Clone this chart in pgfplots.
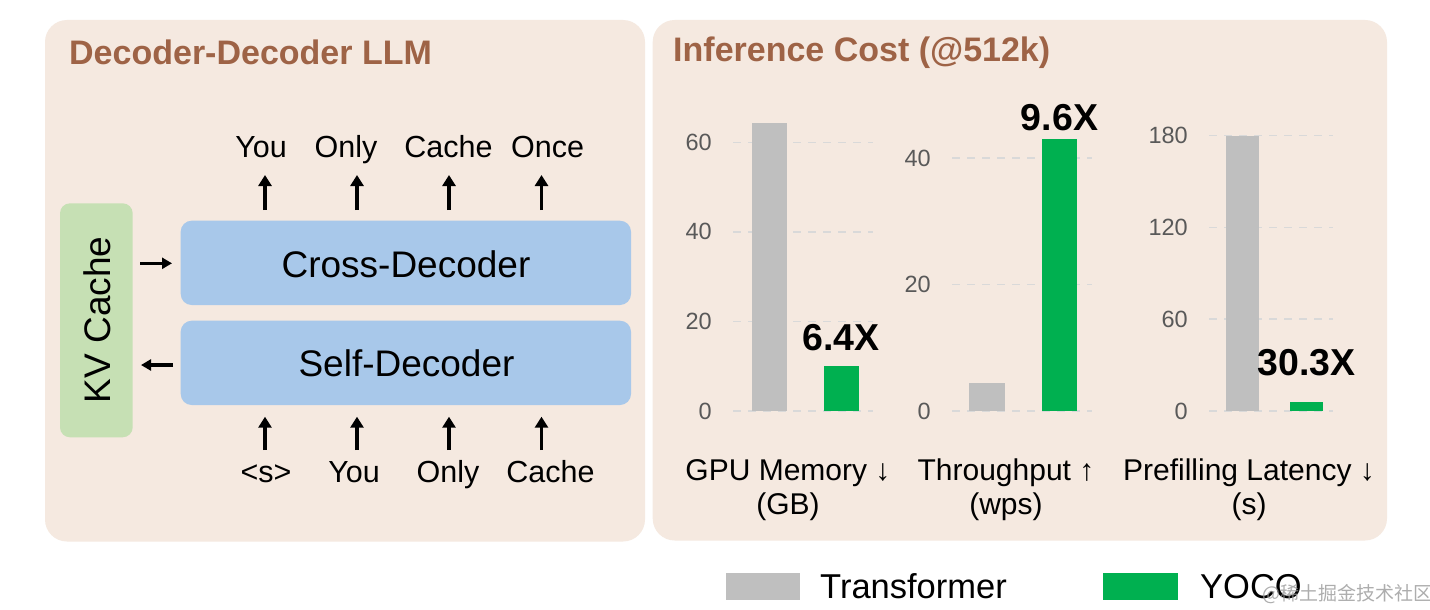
\documentclass[border=0pt]{standalone}
\usepackage{fontspec}
\setmainfont{Liberation Sans}
\newfontfamily\cjk{Noto Sans CJK SC}
\usepackage{pgfplots}
\pgfplotsset{compat=1.18}
\usetikzlibrary{arrows.meta}

\definecolor{panel}{RGB}{245,233,224}
\definecolor{titlec}{RGB}{158,99,70}
\definecolor{boxblue}{RGB}{168,200,234}
\definecolor{kvgreen}{RGB}{198,224,180}
\definecolor{trgray}{RGB}{191,191,191}
\definecolor{yocogreen}{RGB}{0,176,80}
\definecolor{gridc}{RGB}{217,217,217}
\definecolor{tickc}{RGB}{89,89,89}

\newcommand{\fs}[1]{\fontsize{#1}{#1}\selectfont}

\pgfplotsset{
  cost/.style={
    scale only axis,
    anchor=south west,
    ybar, bar shift=0pt,
    ymin=0, clip=false,
    axis line style={draw=none},
    xtick=\empty,
    tick style={draw=none},
    ymajorgrids,
    major grid style={gridc, line width=1.5pt, dash pattern=on 8pt off 7pt},
    yticklabel style={font=\fs{23.5}, text=tickc, anchor=east, inner sep=0pt, xshift=-21pt},
    /pgf/number format/assume math mode=true,
  },
  ratio/.style={nodes near coords, point meta=explicit symbolic,
    nodes near coords style={font=\bfseries\fs{37.5}, text=black, anchor=base, inner sep=0pt, yshift=#1}},
}

\begin{document}
\begin{tikzpicture}[x=1pt, y=1pt]
\useasboundingbox (0,0) rectangle (1430,-610);
\fill[white] (0,0) rectangle (1430,-610);

% panels
\fill[panel, rounded corners=22pt] (45,-20) rectangle (645,-541.5);
\fill[panel, rounded corners=22pt] (652.7,-20) rectangle (1387,-540.5);
\node[anchor=base west, inner sep=0, font=\bfseries\fs{34}, text=titlec] at (69,-65) {Decoder-Decoder LLM};
\node[anchor=base west, inner sep=0, font=\bfseries\fs{34}, text=titlec] at (673,-62) {Inference Cost (@512k)};

% decoder-decoder sketch
\fill[kvgreen, rounded corners=10pt] (60,-203.3) rectangle (132.7,-437.3);
\node[rotate=90, anchor=base, inner sep=0, font=\fs{37}] at (110.7,-320) {KV Cache};
\fill[boxblue, rounded corners=11pt] (180.7,-220.7) rectangle (631,-305);
\fill[boxblue, rounded corners=11pt] (180.7,-320.7) rectangle (631,-405);
\node[anchor=base, inner sep=0, font=\fs{37}] at (406,-277.3) {Cross-Decoder};
\node[anchor=base, inner sep=0, font=\fs{37}] at (406.5,-376.7) {Self-Decoder};
\foreach \x in {265,357,449,541.5} {
  \draw[line width=3.8pt, -{Triangle[length=11pt,width=13pt]}] (\x,-210) -- (\x,-175);
  \draw[line width=3.8pt, -{Triangle[length=11pt,width=13pt]}] (\x,-450) -- (\x,-416.7);
}
\draw[line width=3.3pt, -{Triangle[length=10pt,width=11pt]}] (140,-263.3) -- (172,-263.3);
\draw[line width=3.3pt, -{Triangle[length=10pt,width=11pt]}] (173,-365) -- (141,-365);
\foreach \x/\w in {261/You, 346/Only, 448.5/Cache, 547.6/Once}
  \node[anchor=base, inner sep=0, font=\fs{30.5}] at (\x,-157.7) {\w};
\foreach \x/\w in {266/<s>, 354/You, 448/Only, 550.5/Cache}
  \node[anchor=base, inner sep=0, font=\fs{30.5}] at (\x,-482) {\w};

% GPU memory
\begin{axis}[cost, at={(733pt,-411pt)}, width=140pt, height=291.1pt,
  bar width=35pt, xmin=-0.5105, xmax=1.4476, ymax=65, ytick={0,20,40,60}]
\addplot[fill=trgray, draw=none, bar shift=0pt] coordinates {(0,64.4)};
\addplot[fill=yocogreen, draw=none, bar shift=0pt, ratio=15.3pt] coordinates {(1,10.05) [6.4X]};
\end{axis}

% Throughput
\begin{axis}[cost, at={(952pt,-411pt)}, width=140pt, height=284.6pt,
  bar width=35.5pt, xmin=-0.483, xmax=1.448, ymax=45, ytick={0,20,40}]
\addplot[fill=trgray, draw=none, bar shift=0pt] coordinates {(0,4.43)};
\addplot[fill=yocogreen, draw=none, bar shift=0pt, ratio=9pt] coordinates {(1,43.0) [9.6X]};
\end{axis}

% Prefilling latency
\begin{axis}[cost, at={(1209pt,-411pt)}, width=124pt, height=283pt,
  bar width=33pt, xmin=-0.523, xmax=1.414, ymax=185, ytick={0,60,120,180}]
\addplot[fill=trgray, draw=none, bar shift=0pt] coordinates {(0,180)};
\addplot[fill=yocogreen, draw=none, bar shift=0pt, ratio=27pt] coordinates {(1,5.7) [30.3X]};
\end{axis}

% metric names
\node[anchor=base, inner sep=0, font=\fs{30}] at (788,-480) {GPU Memory ↓};
\node[anchor=base, inner sep=0, font=\fs{30}] at (788,-514) {(GB)};
\node[anchor=base, inner sep=0, font=\fs{30}] at (1006,-480) {Throughput ↑};
\node[anchor=base, inner sep=0, font=\fs{30}] at (1006,-514) {(wps)};
\node[anchor=base, inner sep=0, font=\fs{30}] at (1249,-480) {Prefilling Latency ↓};
\node[anchor=base, inner sep=0, font=\fs{30}] at (1249,-514) {(s)};

% legend
\fill[trgray] (726,-573) rectangle (800,-600);
\node[anchor=base west, inner sep=0, font=\fs{34.5}] at (820,-598) {Transformer};
\fill[yocogreen] (1103,-573) rectangle (1178,-600);
\node[anchor=base west, inner sep=0, font=\fs{34.5}] at (1200,-598) {YOCO};
\node[anchor=base west, inner sep=0, font=\cjk\fs{19}, text=black!40, opacity=0.8] at (1262,-600) {@稀土掘金技术社区};
\end{tikzpicture}
\end{document}
